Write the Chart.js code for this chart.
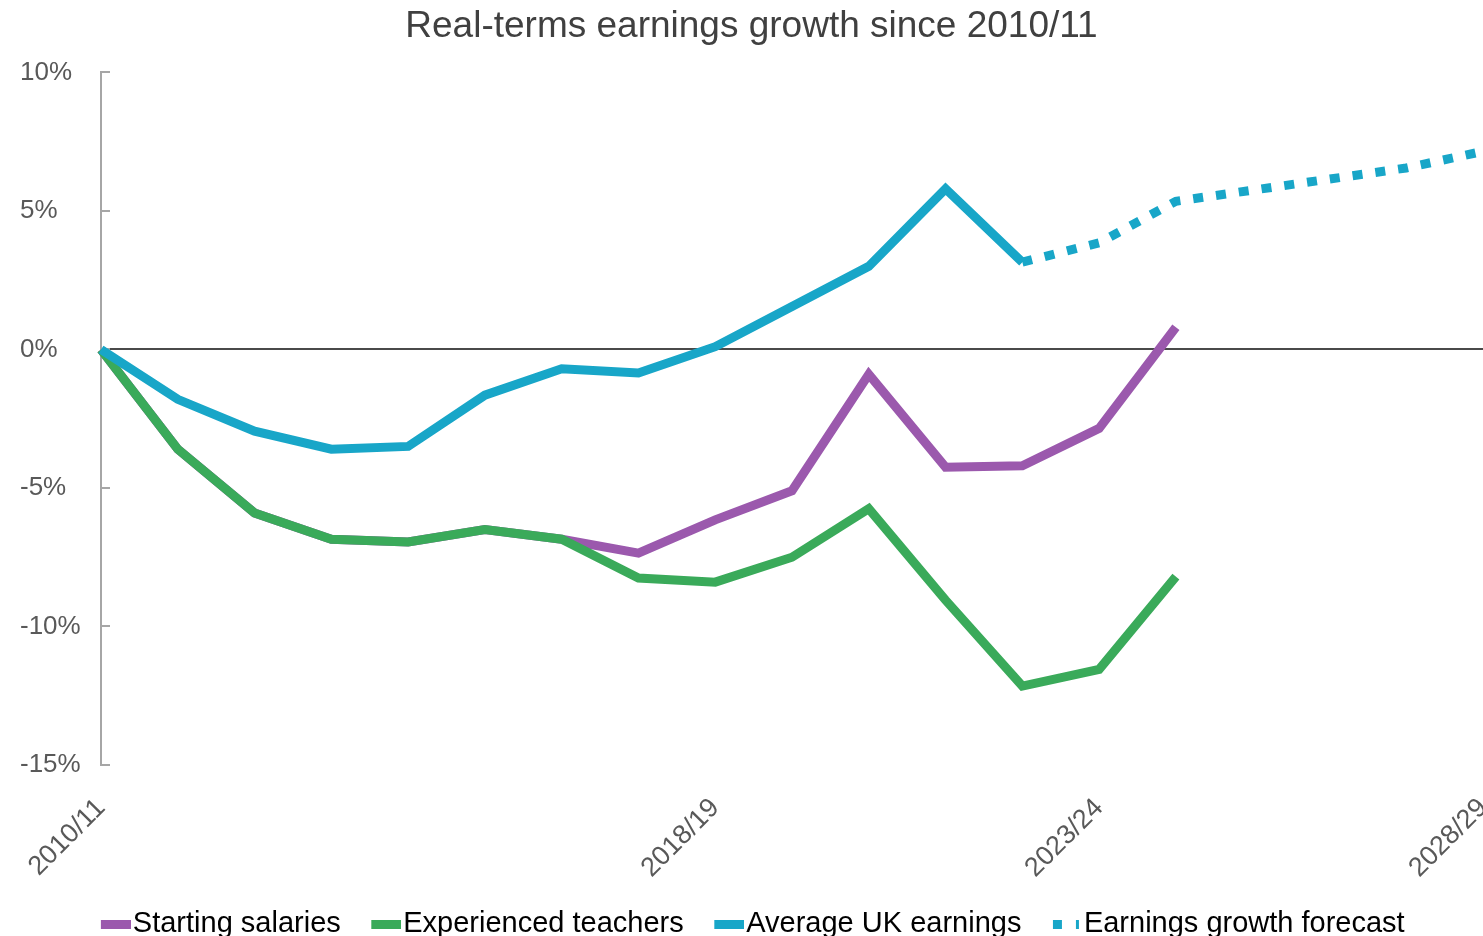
<!DOCTYPE html>
<html lang="en">

<head>
    <meta charset="UTF-8">
    <meta name="viewport" content="width=device-width, initial-scale=1.0">
    <script src="https://cdn.jsdelivr.net/npm/chart.js"></script>
    <title>Real-terms earnings growth since 2010/11</title>
    <style>
        html, body { margin: 0; padding: 0; background: #fff; }
        .grafico { width: 1483px; height: 936px; }
    </style>
</head>

<body>
    <div class="grafico">
        <canvas id="myChartLine" width="1483" height="936"></canvas>
    </div>
</body>

</html>
<script>
    // anos no eixo x e quais rotulos aparecem
    const years = ['2010/11', '2011/12', '2012/13', '2013/14', '2014/15', '2015/16', '2016/17', '2017/18',
        '2018/19', '2019/20', '2020/21', '2021/22', '2022/23', '2023/24', '2024/25', '2025/26',
        '2026/27', '2027/28', '2028/29'];
    const shownYears = ['2010/11', '2018/19', '2023/24', '2028/29'];

    // valores (%)
    const startingSalaries = [0, -3.6, -5.9, -6.85, -6.95, -6.5, -6.85, -7.35, -6.15, -5.1, -0.9, -4.25, -4.2, -2.85, 0.8, null, null, null, null];
    const experiencedTeachers = [0, -3.6, -5.9, -6.85, -6.95, -6.5, -6.85, -8.25, -8.4, -7.5, -5.75, -9.05, -12.15, -11.55, -8.2, null, null, null, null];
    const averageEarnings = [0, -1.8, -2.95, -3.6, -3.5, -1.65, -0.7, -0.85, 0.1, 1.55, 3.0, 5.8, 3.15, null, null, null, null, null, null];
    const earningsForecast = [null, null, null, null, null, null, null, null, null, null, null, null, 3.15, 3.85, 5.35, 5.75, 6.15, 6.55, 7.15];

    const yTicks = [-15, -10, -5, 0, 5, 10];

    const roxo = '#9b59ad';
    const verde = '#3aaa5a';
    const azul = '#18a6c8';

    Chart.defaults.font.family = "'Liberation Sans', Arial, sans-serif";

    // icones da legenda (retangulo cheio ou pontilhado), desenhados na metade direita
    function iconeLegenda(cor, pontilhado) {
        const c = document.createElement('canvas');
        c.width = 45;
        c.height = 9;
        const g = c.getContext('2d');
        g.fillStyle = cor;
        if (pontilhado) {
            g.fillRect(16, 0, 9, 9);
            g.fillRect(39, 0, 3, 9);
        } else {
            g.fillRect(15, 0, 30, 9);
        }
        return c;
    }
    const icones = [iconeLegenda(roxo), iconeLegenda(verde), iconeLegenda(azul), iconeLegenda(azul, true)];

    const dados = {
        labels: years,
        datasets: [{
            label: 'Starting salaries',
            data: startingSalaries,
            borderColor: roxo,
            backgroundColor: roxo,
            borderWidth: 9,
            pointRadius: 0,
            tension: 0,
            order: 4
        }, {
            label: 'Experienced teachers',
            data: experiencedTeachers,
            borderColor: verde,
            backgroundColor: verde,
            borderWidth: 9,
            pointRadius: 0,
            tension: 0,
            order: 3
        }, {
            label: 'Average UK earnings',
            data: averageEarnings,
            borderColor: azul,
            backgroundColor: azul,
            borderWidth: 9,
            pointRadius: 0,
            tension: 0,
            order: 2
        }, {
            label: 'Earnings growth forecast',
            data: earningsForecast,
            borderColor: azul,
            backgroundColor: azul,
            borderWidth: 9,
            borderDash: [10, 13],
            pointRadius: 0,
            tension: 0,
            order: 1
        }]
    };

    const config = {
        type: 'line',
        data: dados,
        options: {
            responsive: false,
            animation: false,
            devicePixelRatio: 1,
            layout: { padding: { left: 20, right: 0, top: 0, bottom: -12.5 } },
            plugins: {
                title: {
                    display: true,
                    text: 'Real-terms earnings growth since 2010/11',
                    color: '#404040',
                    font: { size: 37, weight: 'normal' },
                    padding: { top: 5, bottom: 23 }
                },
                legend: {
                    position: 'bottom',
                    labels: {
                        usePointStyle: true,
                        pointStyleWidth: 20,
                        padding: 28,
                        color: '#404040',
                        font: { size: 29 },
                        generateLabels: chart => chart.data.datasets.map((ds, i) => ({
                            text: ds.label,
                            pointStyle: icones[i],
                            fillStyle: ds.borderColor,
                            strokeStyle: 'rgba(0,0,0,0)',
                            lineWidth: 0,
                            hidden: false,
                            datasetIndex: i
                        }))
                    }
                },
                tooltip: { enabled: false }
            },
            scales: {
                x: {
                    grid: { display: false },
                    border: { display: false },
                    ticks: {
                        autoSkip: false,
                        minRotation: 45,
                        maxRotation: 45,
                        padding: 24,
                        color: '#595959',
                        font: { size: 27, lineHeight: 0.7 },
                        callback: function (value) {
                            const rotulo = this.getLabelForValue(value);
                            return shownYears.includes(rotulo) ? rotulo : '';
                        }
                    },
                    afterFit: function (scale) {
                        scale.height = 116.5;
                        scale.paddingLeft = 0;
                        scale.paddingRight = 0;
                    }
                },
                y: {
                    min: -15,
                    max: 10,
                    afterBuildTicks: function (scale) {
                        scale.ticks = yTicks.map(v => ({ value: v }));
                    },
                    grid: {
                        drawOnChartArea: true,
                        color: ctx => (ctx.tick && ctx.tick.value === 0) ? '#4a4a4a' : 'rgba(0,0,0,0)',
                        lineWidth: 2,
                        tickColor: '#a6a6a6',
                        tickLength: -9,
                        tickWidth: 2
                    },
                    border: { color: '#a6a6a6', width: 2 },
                    ticks: {
                        crossAlign: 'far',
                        color: '#595959',
                        font: { size: 26 },
                        callback: v => v + '%'
                    },
                    afterFit: function (scale) {
                        scale.width = 81;
                    }
                }
            }
        }
    };

    let myChart = new Chart(document.getElementById('myChartLine'), config);
</script>
